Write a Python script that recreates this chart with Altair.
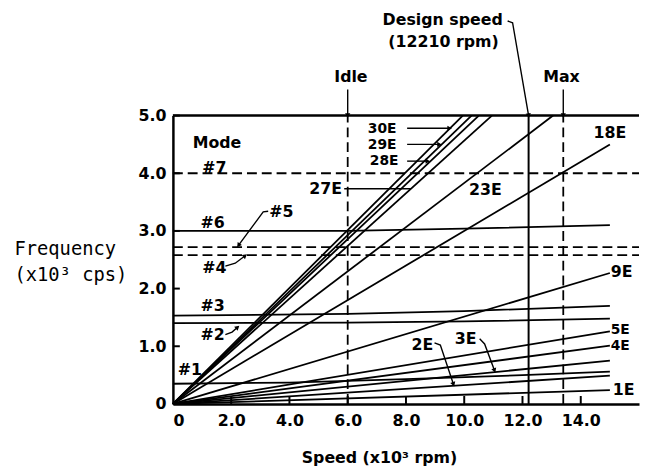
import math
import altair as alt
import pandas as pd

# ---------------- data ----------------
# Engine-order lines (start at origin): label, end speed (x10^3 rpm), end frequency (x10^3 cps)
eo_labels = ["1E", "2E", "3E", "4E", "5E", "9E", "18E", "23E", "27E", "28E", "29E", "30E"]
eo_end_speed = [15, 15, 15, 15, 15, 15, 15, 13.05, 10.95, 10.5, 10.25, 9.95]
eo_end_freq = [0.24, 0.49, 0.75, 1.01, 1.26, 2.27, 4.50, 5.0, 5.0, 5.0, 5.0, 5.0]

# Blade modes drawn solid
mode_names = ["#1", "#2", "#3", "#6"]
mode_speed = [[0, 4, 8, 12, 15], [0, 6, 10, 15], [0, 6, 10, 15], [0, 6, 10, 15]]
mode_freq = [[0.35, 0.37, 0.43, 0.50, 0.56],
             [1.40, 1.41, 1.43, 1.48],
             [1.53, 1.56, 1.61, 1.70],
             [3.00, 3.00, 3.04, 3.10]]
# Blade modes drawn dashed (flat)
dashed_modes = ["#4", "#5", "#7"]
dashed_freq = [2.58, 2.72, 4.0]

# Reference speeds
idle_speed = 6.0
design_speed = 12.21
max_speed = 13.4

x_ticks = [0, 2, 4, 6, 8, 10, 12, 14]
y_ticks = [0, 1, 2, 3, 4, 5]

# Annotations
left_labels = ["Mode", "#7", "#6", "#5", "#4", "#3", "#2", "#1", "9E", "1E"]
left_x = [0.68, 1.01, 0.95, 3.31, 1.01, 0.95, 0.95, 0.17, 15.03, 15.1]
left_y = [4.52, 4.09, 3.13, 3.32, 2.36, 1.70, 1.20, 0.58, 2.28, 0.24]

stack_labels = ["30E", "29E", "28E", "5E", "4E"]
stack_x = [6.69, 6.69, 6.76, 15.03, 15.03]
stack_y = [4.77, 4.49, 4.21, 1.28, 1.01]

center_labels = ["27E", "23E", "18E", "2E", "3E", "Idle", "Max",
                 "Design speed", "(12210 rpm)", "Speed (x10³ rpm)"]
center_x = [5.24, 10.73, 15.0, 8.56, 10.05, 6.11, 13.34, 9.26, 9.29, 7.09]
center_y = [3.73, 3.70, 4.69, 1.02, 1.13, 5.67, 5.67, 6.66, 6.27, -0.94]

ytitle_lines = ["Frequency", "(x10³ cps)"]
ytitle_x = [-5.44, -5.44]
ytitle_y = [2.68, 2.24]

leader_names = ["#5", "#4", "#2", "30E", "29E", "28E", "27E", "2E", "3E",
                "Design", "Idle", "Max"]
leader_x = [[3.27, 3.10, 2.25], [1.80, 2.14, 2.48], [1.80, 2.03, 2.22],
            [8.04, 9.50], [8.04, 9.15], [8.04, 8.75], [5.88, 8.17],
            [8.98, 9.18, 9.63], [10.53, 10.70, 11.04],
            [11.49, 11.66, 12.21], [6.0, 6.0], [13.4, 13.4]]
leader_y = [[3.34, 3.33, 2.75], [2.39, 2.44, 2.57], [1.20, 1.245, 1.33],
            [4.78, 4.78], [4.50, 4.50], [4.21, 4.21], [3.73, 3.73],
            [1.06, 1.02, 0.34], [1.13, 1.04, 0.58],
            [6.64, 6.61, 5.0], [5.45, 5.0], [5.45, 5.0]]
arrow_leaders = ["#5", "#4", "#2", "30E", "29E", "28E", "2E", "3E", "Design", "Idle", "Max"]

# ---------------- tables ----------------
W, H = 472, 292
XMAX, YMAX = 16, 5
SX, SY = W / XMAX, H / YMAX

solid_rows = []
for lab, xe, ye in zip(eo_labels, eo_end_speed, eo_end_freq):
    solid_rows += [dict(s=lab, i=0, x=0, y=0), dict(s=lab, i=1, x=xe, y=ye)]
for lab, xs, ys in zip(mode_names, mode_speed, mode_freq):
    for i, (a, b) in enumerate(zip(xs, ys)):
        solid_rows.append(dict(s=lab, i=i, x=a, y=b))
solid_df = pd.DataFrame(solid_rows)

dash_rows = []
for lab, f in zip(dashed_modes, dashed_freq):
    dash_rows += [dict(s=lab, i=0, x=0, y=f), dict(s=lab, i=1, x=XMAX, y=f)]
dash_df = pd.DataFrame(dash_rows)

lead_rows, head_rows = [], []
for lab, xs, ys in zip(leader_names, leader_x, leader_y):
    for i, (a, b) in enumerate(zip(xs, ys)):
        lead_rows.append(dict(s=lab, i=i, x=a, y=b))
    if lab in arrow_leaders:
        dxp = (xs[-1] - xs[-2]) * SX
        dyp = -(ys[-1] - ys[-2]) * SY
        ang = math.degrees(math.atan2(dxp, -dyp)) % 360
        head_rows.append(dict(x=xs[-1], y=ys[-1], a=ang))
lead_df = pd.DataFrame(lead_rows)
head_df = pd.DataFrame(head_rows)

xs_scale = alt.Scale(domain=[0, XMAX], nice=False, zero=False)
ys_scale = alt.Scale(domain=[0, YMAX], nice=False, zero=False)

FONT = "DejaVu Sans"
lab_expr = "datum.value == 0 ? '0' : format(datum.value, '.1f')"

x_axis = alt.Axis(values=x_ticks, labelExpr=lab_expr, tickSize=0, grid=False, title=None,
                  domainColor="black", domainWidth=2.5, labelFont=FONT, labelFontSize=16,
                  labelFontWeight="bold", labelColor="black", labelPadding=9)
y_axis = alt.Axis(values=y_ticks, labelExpr=lab_expr, tickSize=0, grid=False, title=None,
                  domainColor="black", domainWidth=2.5, labelFont=FONT, labelFontSize=16,
                  labelFontWeight="bold", labelColor="black", labelPadding=7)

solid = alt.Chart(solid_df).mark_line(color="black", strokeWidth=1.8).encode(
    x=alt.X("x:Q", scale=xs_scale, axis=x_axis),
    y=alt.Y("y:Q", scale=ys_scale, axis=y_axis),
    detail="s:N", order="i:Q")

dashed = alt.Chart(dash_df).mark_line(color="black", strokeWidth=1.8, strokeDash=[10, 5]).encode(
    x=alt.X("x:Q", scale=xs_scale), y=alt.Y("y:Q", scale=ys_scale),
    detail="s:N", order="i:Q")

vdf = pd.DataFrame({"x": [idle_speed, design_speed, max_speed],
                    "kind": ["dash", "solid", "dash"]})
vsolid = alt.Chart(vdf[vdf.kind == "solid"]).mark_rule(color="black", strokeWidth=2).encode(
    x=alt.X("x:Q", scale=xs_scale), y=alt.datum(0), y2=alt.datum(YMAX))
vdash = alt.Chart(vdf[vdf.kind == "dash"]).mark_rule(color="black", strokeWidth=1.8,
                                                     strokeDash=[10, 5]).encode(
    x=alt.X("x:Q", scale=xs_scale), y=alt.datum(0), y2=alt.datum(YMAX))

top_border = alt.Chart(pd.DataFrame({"y": [YMAX]})).mark_rule(color="black", strokeWidth=2.5).encode(
    y=alt.Y("y:Q", scale=ys_scale), x=alt.datum(0), x2=alt.datum(XMAX))

xt = alt.Chart(pd.DataFrame({"x": x_ticks[1:]})).mark_rule(color="black", strokeWidth=2).encode(
    x=alt.X("x:Q", scale=xs_scale), y=alt.value(H), y2=alt.value(H - 8))
yt = alt.Chart(pd.DataFrame({"y": y_ticks[1:]})).mark_rule(color="black", strokeWidth=2).encode(
    y=alt.Y("y:Q", scale=ys_scale), x=alt.value(0), x2=alt.value(7))

leaders = alt.Chart(lead_df).mark_line(color="black", strokeWidth=1.4).encode(
    x=alt.X("x:Q", scale=xs_scale), y=alt.Y("y:Q", scale=ys_scale),
    detail="s:N", order="i:Q")
heads = alt.Chart(head_df).mark_point(shape="triangle-up", filled=True, color="black",
                                      size=28, opacity=1).encode(
    x=alt.X("x:Q", scale=xs_scale), y=alt.Y("y:Q", scale=ys_scale), angle=alt.Angle("a:Q", scale=None))

ltext = alt.Chart(pd.DataFrame({"t": left_labels, "x": left_x, "y": left_y})).mark_text(
    align="left", baseline="middle", font=FONT, fontSize=16, fontWeight="bold", color="black").encode(
    x=alt.X("x:Q", scale=xs_scale), y=alt.Y("y:Q", scale=ys_scale), text="t:N")
stext = alt.Chart(pd.DataFrame({"t": stack_labels, "x": stack_x, "y": stack_y})).mark_text(
    align="left", baseline="middle", font=FONT, fontSize=14, fontWeight="bold", color="black").encode(
    x=alt.X("x:Q", scale=xs_scale), y=alt.Y("y:Q", scale=ys_scale), text="t:N")
ctext = alt.Chart(pd.DataFrame({"t": center_labels, "x": center_x, "y": center_y})).mark_text(
    align="center", baseline="middle", font=FONT, fontSize=16, fontWeight="bold", color="black").encode(
    x=alt.X("x:Q", scale=xs_scale), y=alt.Y("y:Q", scale=ys_scale), text="t:N")
ytext = alt.Chart(pd.DataFrame({"t": ytitle_lines, "x": ytitle_x, "y": ytitle_y})).mark_text(
    align="left", baseline="middle", font="DejaVu Sans Mono", fontSize=19, color="black").encode(
    x=alt.X("x:Q", scale=xs_scale), y=alt.Y("y:Q", scale=ys_scale), text="t:N")

chart = alt.layer(solid, dashed, vsolid, vdash, top_border, xt, yt, leaders, heads,
                  ltext, stext, ctext, ytext).properties(
    width=W, height=H,
    padding={"left": 167, "top": 106, "right": 1, "bottom": 66},
    autosize=alt.AutoSizeParams(type="none"),
    background="white",
).configure_view(stroke=None)

chart.save("out.html", embed_options={"renderer": "svg", "actions": False})
